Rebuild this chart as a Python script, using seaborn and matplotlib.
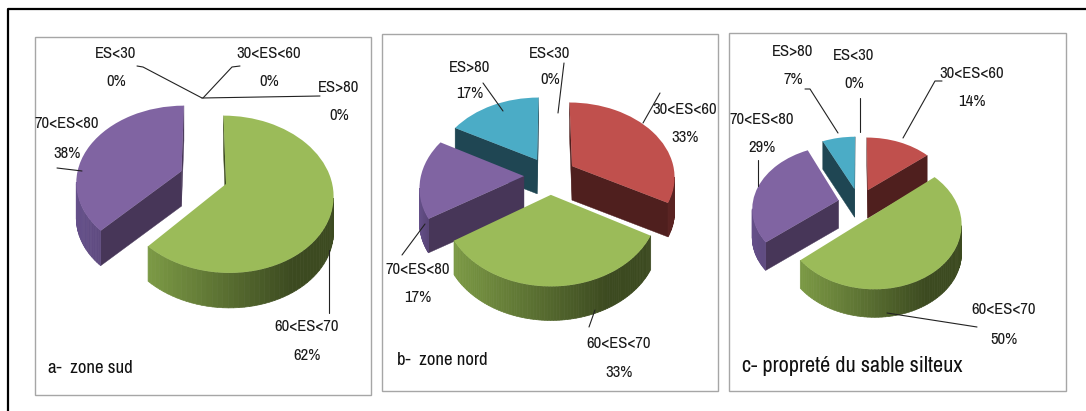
import numpy as np
import matplotlib
matplotlib.use("Agg")
import matplotlib.pyplot as plt
from matplotlib.transforms import Transform
from matplotlib.font_manager import fontManager
from matplotlib.patches import Rectangle
import seaborn as sns

categories = ["ES<30", "30<ES<60", "60<ES<70", "70<ES<80", "ES>80"]
zone_sud = [0, 0, 62, 38, 0]
zone_nord = [0, 33, 33, 17, 17]
sable_silteux = [0, 14, 50, 29, 7]
titles = ["a-  zone sud", "b-  zone nord", "c- propreté du sable silteux"]
top_colors = ["#4F81BD", "#C0504D", "#9BBB59", "#8064A2", "#4BACC6"]
cut_colors = ["#253F5F", "#4F1F1E", "#3F4D22", "#473658", "#1F4653"]
rim_left = ["#2F4F77", "#6E2B29", "#7C9A45", "#65508A", "#2F7F95"]
rim_right = ["#253F5F", "#5A2322", "#3C4A20", "#4F3D67", "#1F4653"]

sns.set_theme(style="white")
installed = {f.name for f in fontManager.ttflist}
narrow_ok = "Archivo Narrow" in installed
main_font = "Archivo Narrow" if narrow_ok else "Liberation Sans"
plt.rcParams["font.family"] = [main_font, "DejaVu Sans"]
label_size = 12 if narrow_ok else 10
title_sizes = (13.5, 13.5, 16) if narrow_ok else (10.5, 10.5, 12.4)


class Tilt(Transform):
    input_dims = output_dims = 2
    is_separable = False
    has_inverse = False

    def __init__(self, cx, cy, r, k, p):
        super().__init__()
        self.c = (cx, cy, r, k, p)

    def transform_non_affine(self, xy):
        cx, cy, r, k, p = self.c
        xy = np.asarray(xy, float)
        u, v = xy[:, 0] - cx, xy[:, 1] - cy
        s = 1 + p * v / r
        return np.column_stack([cx + u / s, cy + k * v / s])


W, H = 1086, 411
fig = plt.figure(figsize=(W / 100, H / 100), dpi=100, facecolor="white")
ax = fig.add_axes([0, 0, 1, 1])


def Y(y):
    return H - y


def pie3d(vals, cx, cy, r, explode_px, depth, k, p):
    cy = Y(cy)
    wedges, _ = ax.pie(vals, colors=top_colors, startangle=90, counterclock=False,
                       center=(cx, cy), radius=r, explode=[explode_px] * len(vals),
                       wedgeprops=dict(linewidth=0), frame=False)
    tilt = Tilt(cx, cy, r, k, p)
    order = sorted(range(len(wedges)), key=lambda i: -wedges[i].center[1])
    for z, i in enumerate(order):
        w = wedges[i]
        base = 2 + z * 2
        w.set_transform(tilt + ax.transData)
        w.set_zorder(base + 1)
        if vals[i] == 0:
            w.set_visible(False)
            continue
        th = np.radians(np.linspace(w.theta1, w.theta2, 90))
        pts = np.column_stack([w.center[0] + r * np.cos(th), w.center[1] + r * np.sin(th)])
        rim = tilt.transform_non_affine(pts)
        apex = tilt.transform_non_affine(np.array([w.center]))[0]
        x0, x1 = rim[:, 0].min(), rim[:, 0].max()
        c0 = np.array(matplotlib.colors.to_rgb(rim_left[i]))
        c1 = np.array(matplotlib.colors.to_rgb(rim_right[i]))
        for a, b in ((apex, rim[0]), (rim[-1], apex)):
            if b[0] > a[0]:
                ax.fill([a[0], b[0], b[0], a[0]], [a[1], b[1], b[1] - depth, a[1] - depth],
                        color=cut_colors[i], lw=0.3, zorder=base)
        for a, b in zip(rim[:-1], rim[1:]):
            if b[0] > a[0]:
                t = min(1, ((a[0] + b[0]) / 2 - x0) / (0.78 * (x1 - x0)))
                ax.fill([a[0], b[0], b[0], a[0]], [a[1], b[1], b[1] - depth, a[1] - depth],
                        color=c0 + (c1 - c0) * t, lw=0.5, zorder=base)


def labels(items):
    for idx, x, y1, y2 in items:
        name = categories[idx[0]]
        val = idx[1]
        ax.text(x, Y(y1), name, ha="center", va="center", fontsize=label_size, color="#1a1a1a", zorder=30)
        ax.text(x, Y(y2), f"{val}%", ha="center", va="center", fontsize=label_size, color="#1a1a1a", zorder=30)


def leader(*pts):
    xs, ys = zip(*pts)
    ax.plot(xs, [Y(y) for y in ys], color="#222222", lw=0.8, zorder=40)


ax.plot([8, 8, W], [0, Y(9), Y(9)], color="black", lw=1.6, zorder=1)
for x0, y0, x1, y1 in [(35, 37, 371, 395), (382, 34, 718, 391), (729, 33, 1066, 391)]:
    ax.add_patch(Rectangle((x0, Y(y1)), x1 - x0, y1 - y0, fc="white", ec="#A6A6A6", lw=1.0, zorder=1.5))

pie3d(zone_sud, 203.5, 177.5, 105, 24, 35, 0.72, 0.13)
pie3d(zone_nord, 550, 175.5, 103, 26, 34, 0.72, 0.13)
pie3d(sable_silteux, 859, 203.5, 86, 21, 28, 0.72, 0.12)

ax.set_xlim(0, W)
ax.set_ylim(0, H)
ax.set_aspect("auto")
ax.axis("off")

labels([((0, zone_sud[0]), 116, 54, 82), ((1, zone_sud[1]), 269, 54, 82),
        ((4, zone_sud[4]), 339, 88, 116), ((3, zone_sud[3]), 67, 124, 153),
        ((2, zone_sud[2]), 307, 326, 355)])
labels([((0, zone_nord[0]), 550, 53, 80), ((4, zone_nord[4]), 470, 67, 94),
        ((1, zone_nord[1]), 685, 110, 138), ((3, zone_nord[3]), 418, 270, 298),
        ((2, zone_nord[2]), 619, 343, 372)])
labels([((4, sable_silteux[4]), 793, 52, 80), ((0, sable_silteux[0]), 854, 56, 84),
        ((1, sable_silteux[1]), 972, 73, 102), ((3, sable_silteux[3]), 762, 119, 148),
        ((2, sable_silteux[2]), 1004, 309, 339)])

leader((137, 66), (143, 67), (202, 98))
leader((240, 66), (232, 67), (203, 98))
leader((320, 96), (202, 98))
leader((57, 168), (82, 171))
leader((329, 250), (329, 313))
leader((564, 63), (558, 113))
leader((483, 83), (503, 111))
leader((660, 93), (643, 123))
leader((402, 255), (425, 224))
leader((589, 327), (595, 310))
leader((805, 89), (810, 89), (838, 133))
leader((860, 98), (860, 132))
leader((942, 81), (935, 81), (903, 138))
leader((758, 160), (758, 186))
leader((887, 313), (977, 327))

ax.text(48, Y(368), titles[0], fontsize=title_sizes[0], fontweight="bold", va="center", color="#111111", zorder=30)
ax.text(397, Y(360), titles[1], fontsize=title_sizes[1], fontweight="bold", va="center", color="#111111", zorder=30)
ax.text(742, Y(366), titles[2], fontsize=title_sizes[2], va="center", color="#111111", zorder=30)

fig.savefig("out.png", dpi=100, facecolor="white")
